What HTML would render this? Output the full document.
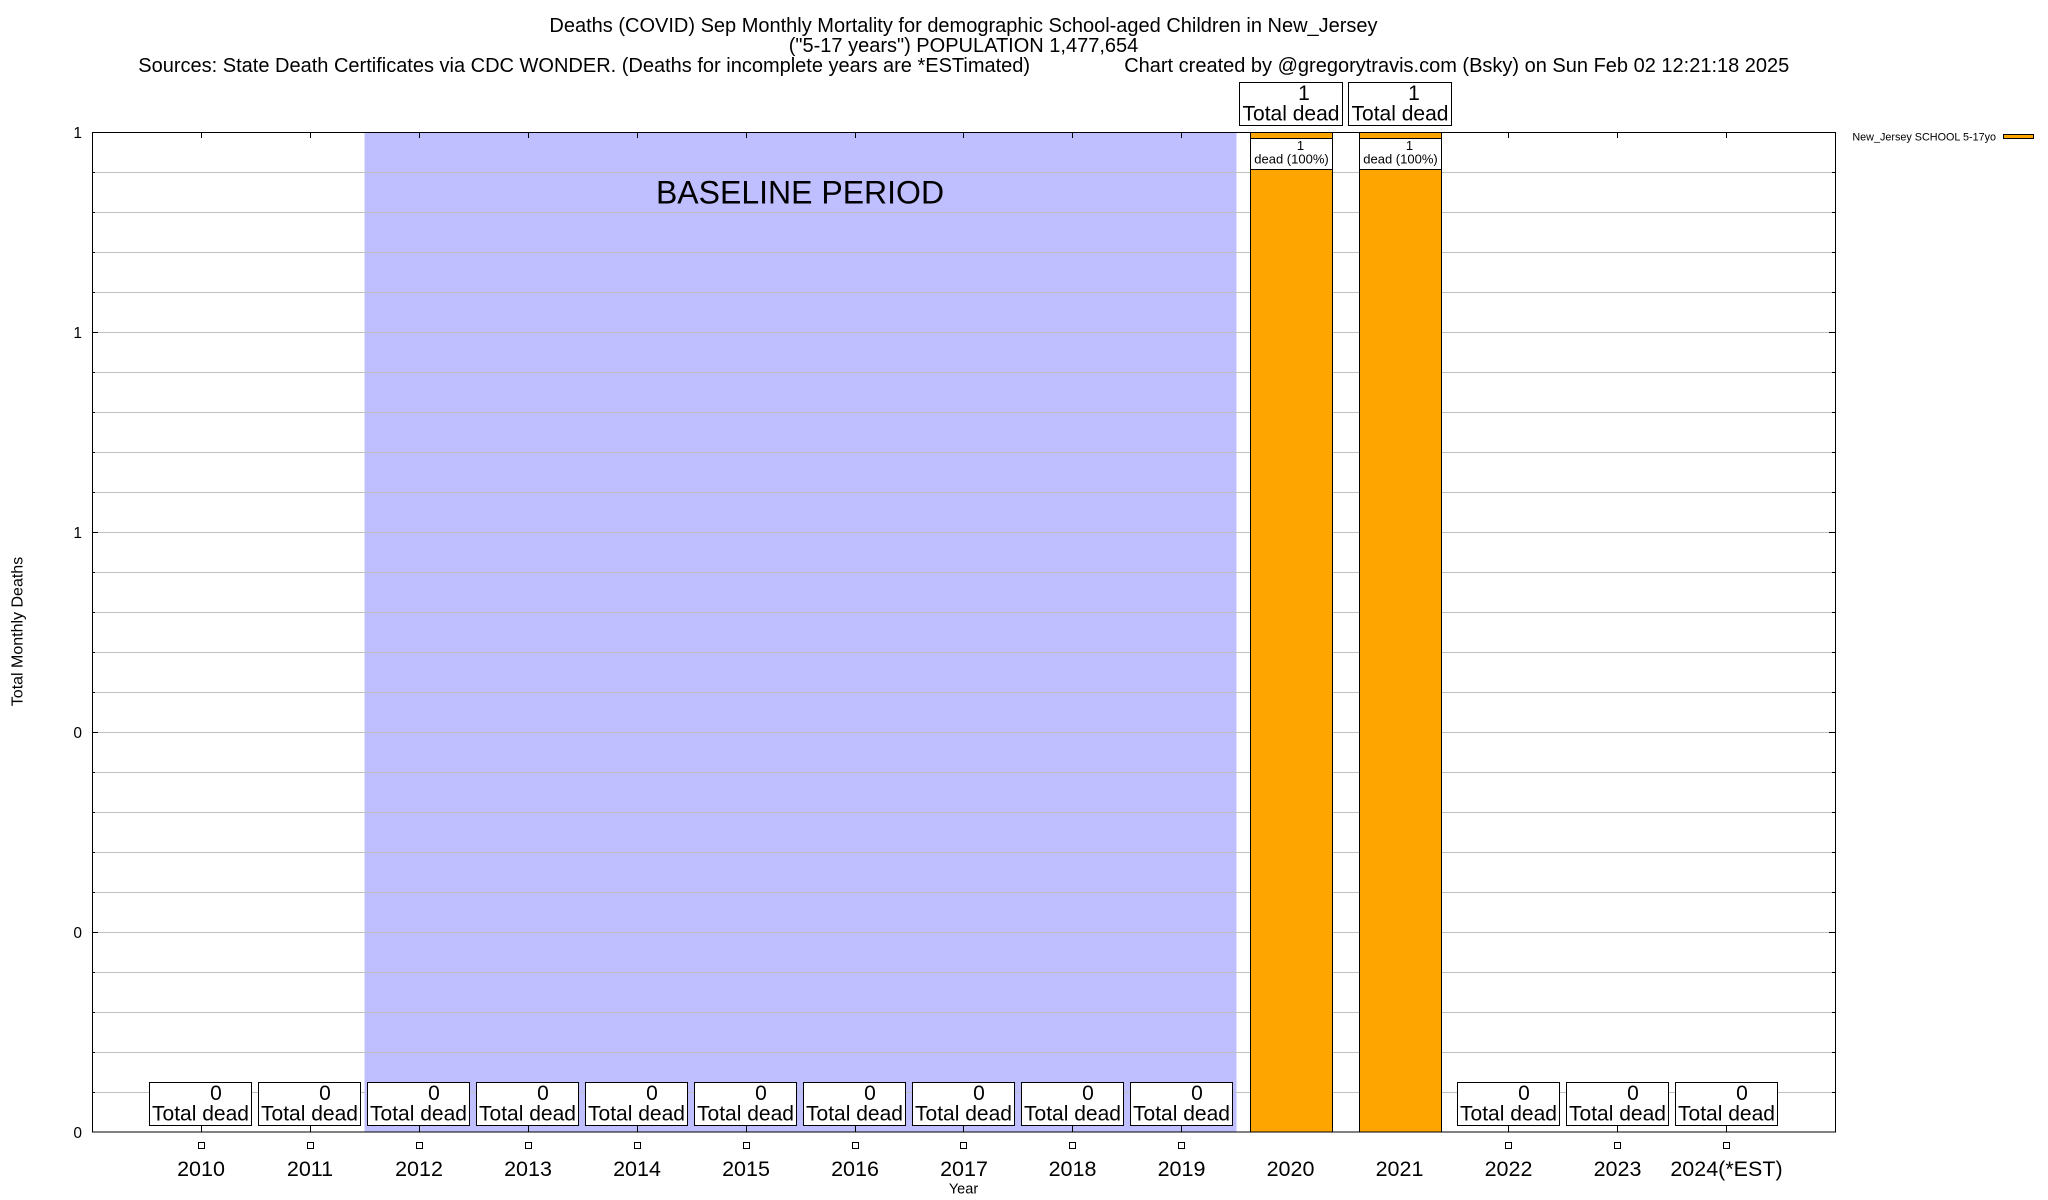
<!DOCTYPE html>
<html><head><meta charset="utf-8"><style>
html,body{margin:0;padding:0;background:#fff;}
svg{display:block;}
text{font-family:"Liberation Sans",Arial,sans-serif;fill:#000;}
</style></head><body>
<svg width="2048" height="1200" viewBox="0 0 2048 1200" xmlns="http://www.w3.org/2000/svg">
<rect x="0" y="0" width="2048" height="1200" fill="#fff"/>
<!-- titles -->
<text x="963.5" y="32" font-size="20" text-anchor="middle">Deaths (COVID) Sep Monthly Mortality for demographic School-aged Children in New_Jersey</text>
<text x="963.5" y="52" font-size="20" text-anchor="middle">("5-17 years") POPULATION 1,477,654</text>
<text x="138.3" y="72" font-size="20" text-anchor="start">Sources: State Death Certificates via CDC WONDER. (Deaths for incomplete years are *ESTimated)</text>
<text x="1789.3" y="72" font-size="20" text-anchor="end">Chart created by @gregorytravis.com (Bsky) on Sun Feb 02 12:21:18 2025</text>

<!-- baseline shading -->
<rect x="364.5" y="132" width="872" height="1000" fill="#BFBFFF"/>

<!-- grid -->
<g stroke="#c0c0c0" stroke-width="1" shape-rendering="crispEdges">
<line x1="92" y1="172.5" x2="1835" y2="172.5"/>
<line x1="92" y1="212.5" x2="1835" y2="212.5"/>
<line x1="92" y1="252.5" x2="1835" y2="252.5"/>
<line x1="92" y1="292.5" x2="1835" y2="292.5"/>
<line x1="92" y1="332.5" x2="1835" y2="332.5"/>
<line x1="92" y1="372.5" x2="1835" y2="372.5"/>
<line x1="92" y1="412.5" x2="1835" y2="412.5"/>
<line x1="92" y1="452.5" x2="1835" y2="452.5"/>
<line x1="92" y1="492.5" x2="1835" y2="492.5"/>
<line x1="92" y1="532.5" x2="1835" y2="532.5"/>
<line x1="92" y1="572.5" x2="1835" y2="572.5"/>
<line x1="92" y1="612.5" x2="1835" y2="612.5"/>
<line x1="92" y1="652.5" x2="1835" y2="652.5"/>
<line x1="92" y1="692.5" x2="1835" y2="692.5"/>
<line x1="92" y1="732.5" x2="1835" y2="732.5"/>
<line x1="92" y1="772.5" x2="1835" y2="772.5"/>
<line x1="92" y1="812.5" x2="1835" y2="812.5"/>
<line x1="92" y1="852.5" x2="1835" y2="852.5"/>
<line x1="92" y1="892.5" x2="1835" y2="892.5"/>
<line x1="92" y1="932.5" x2="1835" y2="932.5"/>
<line x1="92" y1="972.5" x2="1835" y2="972.5"/>
<line x1="92" y1="1012.5" x2="1835" y2="1012.5"/>
<line x1="92" y1="1052.5" x2="1835" y2="1052.5"/>
<line x1="92" y1="1092.5" x2="1835" y2="1092.5"/>
</g>

<text x="800" y="203.5" font-size="32" text-anchor="middle">BASELINE PERIOD</text>

<!-- bars -->
<g stroke="#000" stroke-width="1" shape-rendering="crispEdges">
<rect x="1250.5" y="132.5" width="82" height="999.5" fill="#FFA500"/>
<rect x="1359.5" y="132.5" width="82" height="999.5" fill="#FFA500"/>
<rect x="1250.5" y="138.5" width="82" height="31" fill="#fff"/>
<rect x="1359.5" y="138.5" width="82" height="31" fill="#fff"/>
</g>
<text x="1300.5" y="150" font-size="13" text-anchor="middle">1</text>
<text x="1291.5" y="163.3" font-size="13" text-anchor="middle">dead (100%)</text>
<text x="1409.5" y="150" font-size="13" text-anchor="middle">1</text>
<text x="1400.5" y="163.3" font-size="13" text-anchor="middle">dead (100%)</text>

<!-- border -->
<rect x="92.5" y="132.5" width="1743" height="999.5" fill="none" stroke="#000" stroke-width="1" shape-rendering="crispEdges"/>

<!-- x ticks -->
<g stroke="#000" stroke-width="1" shape-rendering="crispEdges">
<line x1="201.5" y1="1126" x2="201.5" y2="1132"/><line x1="201.5" y1="132" x2="201.5" y2="138"/>
<line x1="310.5" y1="1126" x2="310.5" y2="1132"/><line x1="310.5" y1="132" x2="310.5" y2="138"/>
<line x1="419.5" y1="1126" x2="419.5" y2="1132"/><line x1="419.5" y1="132" x2="419.5" y2="138"/>
<line x1="528.5" y1="1126" x2="528.5" y2="1132"/><line x1="528.5" y1="132" x2="528.5" y2="138"/>
<line x1="637.5" y1="1126" x2="637.5" y2="1132"/><line x1="637.5" y1="132" x2="637.5" y2="138"/>
<line x1="746.5" y1="1126" x2="746.5" y2="1132"/><line x1="746.5" y1="132" x2="746.5" y2="138"/>
<line x1="855.5" y1="1126" x2="855.5" y2="1132"/><line x1="855.5" y1="132" x2="855.5" y2="138"/>
<line x1="963.5" y1="1126" x2="963.5" y2="1132"/><line x1="963.5" y1="132" x2="963.5" y2="138"/>
<line x1="1072.5" y1="1126" x2="1072.5" y2="1132"/><line x1="1072.5" y1="132" x2="1072.5" y2="138"/>
<line x1="1181.5" y1="1126" x2="1181.5" y2="1132"/><line x1="1181.5" y1="132" x2="1181.5" y2="138"/>
<line x1="1508.5" y1="1126" x2="1508.5" y2="1132"/><line x1="1508.5" y1="132" x2="1508.5" y2="138"/>
<line x1="1617.5" y1="1126" x2="1617.5" y2="1132"/><line x1="1617.5" y1="132" x2="1617.5" y2="138"/>
<line x1="1726.5" y1="1126" x2="1726.5" y2="1132"/><line x1="1726.5" y1="132" x2="1726.5" y2="138"/>
</g>

<!-- y ticks -->
<g stroke="#000" stroke-width="1" shape-rendering="crispEdges">
<line x1="92" y1="332.5" x2="98" y2="332.5"/><line x1="1829" y1="332.5" x2="1835" y2="332.5"/>
<line x1="92" y1="532.5" x2="98" y2="532.5"/><line x1="1829" y1="532.5" x2="1835" y2="532.5"/>
<line x1="92" y1="732.5" x2="98" y2="732.5"/><line x1="1829" y1="732.5" x2="1835" y2="732.5"/>
<line x1="92" y1="932.5" x2="98" y2="932.5"/><line x1="1829" y1="932.5" x2="1835" y2="932.5"/>
<line x1="92" y1="172.5" x2="95" y2="172.5"/><line x1="1832" y1="172.5" x2="1835" y2="172.5"/>
<line x1="92" y1="212.5" x2="95" y2="212.5"/><line x1="1832" y1="212.5" x2="1835" y2="212.5"/>
<line x1="92" y1="252.5" x2="95" y2="252.5"/><line x1="1832" y1="252.5" x2="1835" y2="252.5"/>
<line x1="92" y1="292.5" x2="95" y2="292.5"/><line x1="1832" y1="292.5" x2="1835" y2="292.5"/>
<line x1="92" y1="372.5" x2="95" y2="372.5"/><line x1="1832" y1="372.5" x2="1835" y2="372.5"/>
<line x1="92" y1="412.5" x2="95" y2="412.5"/><line x1="1832" y1="412.5" x2="1835" y2="412.5"/>
<line x1="92" y1="452.5" x2="95" y2="452.5"/><line x1="1832" y1="452.5" x2="1835" y2="452.5"/>
<line x1="92" y1="492.5" x2="95" y2="492.5"/><line x1="1832" y1="492.5" x2="1835" y2="492.5"/>
<line x1="92" y1="572.5" x2="95" y2="572.5"/><line x1="1832" y1="572.5" x2="1835" y2="572.5"/>
<line x1="92" y1="612.5" x2="95" y2="612.5"/><line x1="1832" y1="612.5" x2="1835" y2="612.5"/>
<line x1="92" y1="652.5" x2="95" y2="652.5"/><line x1="1832" y1="652.5" x2="1835" y2="652.5"/>
<line x1="92" y1="692.5" x2="95" y2="692.5"/><line x1="1832" y1="692.5" x2="1835" y2="692.5"/>
<line x1="92" y1="772.5" x2="95" y2="772.5"/><line x1="1832" y1="772.5" x2="1835" y2="772.5"/>
<line x1="92" y1="812.5" x2="95" y2="812.5"/><line x1="1832" y1="812.5" x2="1835" y2="812.5"/>
<line x1="92" y1="852.5" x2="95" y2="852.5"/><line x1="1832" y1="852.5" x2="1835" y2="852.5"/>
<line x1="92" y1="892.5" x2="95" y2="892.5"/><line x1="1832" y1="892.5" x2="1835" y2="892.5"/>
<line x1="92" y1="972.5" x2="95" y2="972.5"/><line x1="1832" y1="972.5" x2="1835" y2="972.5"/>
<line x1="92" y1="1012.5" x2="95" y2="1012.5"/><line x1="1832" y1="1012.5" x2="1835" y2="1012.5"/>
<line x1="92" y1="1052.5" x2="95" y2="1052.5"/><line x1="1832" y1="1052.5" x2="1835" y2="1052.5"/>
<line x1="92" y1="1092.5" x2="95" y2="1092.5"/><line x1="1832" y1="1092.5" x2="1835" y2="1092.5"/>
</g>

<!-- y tick labels -->
<g font-size="15.5" text-anchor="end">
<text x="82" y="138">1</text>
<text x="82" y="338">1</text>
<text x="82" y="538">1</text>
<text x="82" y="738">0</text>
<text x="82" y="938">0</text>
<text x="82" y="1138">0</text>
</g>

<!-- axis titles -->
<text transform="translate(22.5,631.5) rotate(-90)" font-size="16" text-anchor="middle">Total Monthly Deaths</text>
<text x="963.5" y="1193.3" font-size="14.5" text-anchor="middle">Year</text>

<!-- bottom value boxes -->
<g fill="#fff" stroke="#000" stroke-width="1" shape-rendering="crispEdges">
<rect x="149.5" y="1082.5" width="102" height="43"/>
<rect x="258.5" y="1082.5" width="102" height="43"/>
<rect x="367.5" y="1082.5" width="102" height="43"/>
<rect x="476.5" y="1082.5" width="102" height="43"/>
<rect x="585.5" y="1082.5" width="102" height="43"/>
<rect x="694.5" y="1082.5" width="102" height="43"/>
<rect x="803.5" y="1082.5" width="102" height="43"/>
<rect x="912.5" y="1082.5" width="102" height="43"/>
<rect x="1021.5" y="1082.5" width="102" height="43"/>
<rect x="1130.5" y="1082.5" width="102" height="43"/>
<rect x="1457.5" y="1082.5" width="102" height="43"/>
<rect x="1566.5" y="1082.5" width="102" height="43"/>
<rect x="1675.5" y="1082.5" width="102" height="43"/>
<rect x="1239.5" y="82.5" width="103" height="43"/>
<rect x="1348.5" y="82.5" width="103" height="43"/>
</g>
<g font-size="21" text-anchor="middle">
<text x="216" y="1100">0</text><text x="200.5" y="1120.5">Total dead</text>
<text x="325" y="1100">0</text><text x="309.5" y="1120.5">Total dead</text>
<text x="434" y="1100">0</text><text x="418.5" y="1120.5">Total dead</text>
<text x="543" y="1100">0</text><text x="527.5" y="1120.5">Total dead</text>
<text x="652" y="1100">0</text><text x="636.5" y="1120.5">Total dead</text>
<text x="761" y="1100">0</text><text x="745.5" y="1120.5">Total dead</text>
<text x="870" y="1100">0</text><text x="854.5" y="1120.5">Total dead</text>
<text x="979" y="1100">0</text><text x="963.5" y="1120.5">Total dead</text>
<text x="1088" y="1100">0</text><text x="1072.5" y="1120.5">Total dead</text>
<text x="1197" y="1100">0</text><text x="1181.5" y="1120.5">Total dead</text>
<text x="1524" y="1100">0</text><text x="1508.5" y="1120.5">Total dead</text>
<text x="1633" y="1100">0</text><text x="1617.5" y="1120.5">Total dead</text>
<text x="1742" y="1100">0</text><text x="1726.5" y="1120.5">Total dead</text>
<text x="1304" y="100">1</text><text x="1291" y="120.5">Total dead</text>
<text x="1414" y="100">1</text><text x="1400" y="120.5">Total dead</text>
</g>

<!-- markers -->
<g fill="#fff" stroke="#000" stroke-width="1" shape-rendering="crispEdges">
<rect x="198.5" y="1142.5" width="6" height="6"/>
<rect x="307.5" y="1142.5" width="6" height="6"/>
<rect x="416.5" y="1142.5" width="6" height="6"/>
<rect x="525.5" y="1142.5" width="6" height="6"/>
<rect x="634.5" y="1142.5" width="6" height="6"/>
<rect x="743.5" y="1142.5" width="6" height="6"/>
<rect x="852.5" y="1142.5" width="6" height="6"/>
<rect x="960.5" y="1142.5" width="6" height="6"/>
<rect x="1069.5" y="1142.5" width="6" height="6"/>
<rect x="1178.5" y="1142.5" width="6" height="6"/>
<rect x="1505.5" y="1142.5" width="6" height="6"/>
<rect x="1614.5" y="1142.5" width="6" height="6"/>
<rect x="1723.5" y="1142.5" width="6" height="6"/>
</g>

<!-- x tick labels -->
<g font-size="21.5" text-anchor="middle">
<text x="201" y="1176">2010</text>
<text x="310" y="1176">2011</text>
<text x="419" y="1176">2012</text>
<text x="528" y="1176">2013</text>
<text x="637" y="1176">2014</text>
<text x="746" y="1176">2015</text>
<text x="855" y="1176">2016</text>
<text x="964" y="1176">2017</text>
<text x="1072.5" y="1176">2018</text>
<text x="1181.5" y="1176">2019</text>
<text x="1290.5" y="1176">2020</text>
<text x="1399.5" y="1176">2021</text>
<text x="1508.5" y="1176">2022</text>
<text x="1617.5" y="1176">2023</text>
<text x="1726.5" y="1176">2024(*EST)</text>
</g>

<!-- legend -->
<text x="1996" y="140.7" font-size="10.8" text-anchor="end">New_Jersey SCHOOL 5-17yo</text>
<rect x="2003.5" y="134.5" width="30" height="4" fill="#FFA500" stroke="#000" stroke-width="1" shape-rendering="crispEdges"/>
</svg>
</body></html>
